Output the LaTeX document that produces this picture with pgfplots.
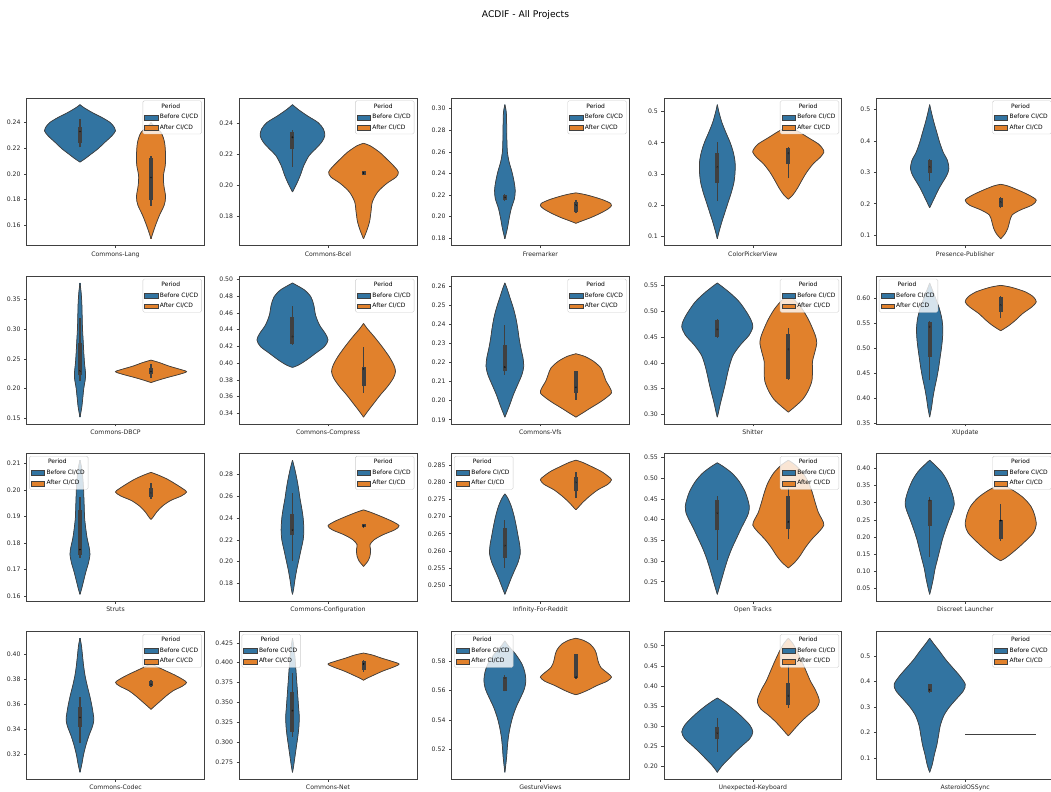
\documentclass[border=0pt]{standalone}
\usepackage{fontspec}
\setmainfont{DejaVu Sans}
\usepackage{pgfplots}
\usepackage{pgfplotstable}
\pgfplotsset{compat=1.18}

\definecolor{cB}{RGB}{50,116,161}
\definecolor{cO}{RGB}{225,129,44}
\definecolor{edge}{RGB}{64,64,64}

% violin profiles: v = value, h = half width relative to the widest violin
\pgfplotstableread{
v h
0.2539 0
0.2516 0.11
0.2477 0.35
0.2439 0.62
0.2400 0.85
0.2361 0.97
0.2336 1.0
0.2297 0.90
0.2246 0.70
0.2194 0.50
0.2156 0.32
0.2122 0.16
0.2092 0
}\LangB
\pgfplotstableread{
v h
0.2400 0
0.2374 0.08
0.2323 0.28
0.2246 0.38
0.2143 0.41
0.2066 0.40
0.1989 0.35
0.1912 0.36
0.1822 0.41
0.1757 0.37
0.1680 0.24
0.1603 0.13
0.1539 0.05
0.1495 0
}\LangA
\pgfplotstableread{
v h
0.2521 0
0.2492 0.15
0.2449 0.42
0.2406 0.72
0.2364 0.87
0.2321 0.91
0.2279 0.82
0.2236 0.65
0.2194 0.47
0.2130 0.32
0.2066 0.22
0.2013 0.12
0.1959 0
}\BcelB
\pgfplotstableread{
v h
0.2272 0
0.2257 0.18
0.2215 0.45
0.2172 0.65
0.2119 0.88
0.2087 0.98
0.2055 0.92
0.2013 0.65
0.1959 0.40
0.1896 0.25
0.1832 0.21
0.1768 0.17
0.1715 0.10
0.1657 0
}\BcelA
\pgfplotstableread{
v h
0.3037 0
0.2963 0.04
0.2841 0.05
0.2718 0.055
0.2596 0.07
0.2504 0.12
0.2412 0.20
0.2320 0.26
0.2243 0.29
0.2167 0.27
0.2075 0.18
0.1983 0.12
0.1891 0.07
0.1793 0
}\FreeB
\pgfplotstableread{
v h
0.2219 0
0.2204 0.25
0.2182 0.50
0.2152 0.78
0.2121 0.98
0.2100 1.0
0.2069 0.90
0.2029 0.68
0.1990 0.42
0.1959 0.17
0.1937 0
}\FreeA
\pgfplotstableread{
v h
0.5223 0
0.4968 0.05
0.4650 0.13
0.4332 0.24
0.4013 0.36
0.3695 0.45
0.3377 0.50
0.3058 0.50
0.2740 0.47
0.2422 0.40
0.2104 0.31
0.1785 0.22
0.1467 0.13
0.1149 0.05
0.0915 0
}\ColorB
\pgfplotstableread{
v h
0.4523 0
0.4385 0.25
0.4172 0.55
0.3960 0.85
0.3801 0.97
0.3695 1.0
0.3536 0.90
0.3324 0.70
0.3058 0.52
0.2793 0.38
0.2528 0.25
0.2315 0.12
0.2188 0
}\ColorA
\pgfplotstableread{
v h
0.5158 0
0.4905 0.05
0.4589 0.12
0.4274 0.20
0.3958 0.28
0.3642 0.38
0.3379 0.50
0.3116 0.54
0.2905 0.48
0.2695 0.37
0.2484 0.26
0.2274 0.17
0.2063 0.08
0.1874 0
}\PresB
\pgfplotstableread{
v h
0.2621 0
0.2568 0.20
0.2432 0.50
0.2274 0.80
0.2116 1.0
0.1958 0.88
0.1800 0.55
0.1642 0.32
0.1432 0.25
0.1221 0.20
0.1042 0.12
0.0884 0
}\PresA
\pgfplotstableread{
v h
0.3778 0
0.3628 0.03
0.3461 0.05
0.3239 0.06
0.3017 0.07
0.2794 0.09
0.2572 0.11
0.2406 0.13
0.2267 0.155
0.2156 0.15
0.2017 0.11
0.1850 0.08
0.1683 0.05
0.1517 0
}\DbcpB
\pgfplotstableread{
v h
0.2478 0
0.2433 0.25
0.2378 0.50
0.2322 0.82
0.2283 1.0
0.2239 0.80
0.2183 0.45
0.2139 0.20
0.2100 0
}\DbcpA
\pgfplotstableread{
v h
0.4957 0
0.4929 0.12
0.4870 0.35
0.4790 0.52
0.4692 0.60
0.4573 0.65
0.4455 0.76
0.4356 0.92
0.4277 1.0
0.4198 0.90
0.4118 0.65
0.4039 0.40
0.3980 0.18
0.3949 0
}\CompB
\pgfplotstableread{
v h
0.4474 0
0.4415 0.10
0.4316 0.30
0.4198 0.52
0.4079 0.72
0.3980 0.85
0.3901 0.90
0.3822 0.84
0.3723 0.68
0.3624 0.48
0.3526 0.30
0.3427 0.12
0.3356 0
}\CompA
\pgfplotstableread{
v h
0.2617 0
0.2588 0.06
0.2536 0.15
0.2484 0.24
0.2432 0.31
0.2380 0.36
0.2327 0.40
0.2275 0.45
0.2223 0.51
0.2180 0.53
0.2137 0.48
0.2084 0.36
0.2032 0.24
0.1980 0.14
0.1937 0.05
0.1914 0
}\VfsB
\pgfplotstableread{
v h
0.2246 0
0.2232 0.25
0.2206 0.50
0.2172 0.70
0.2137 0.78
0.2102 0.85
0.2067 0.96
0.2041 1.0
0.2015 0.85
0.1989 0.65
0.1963 0.42
0.1937 0.20
0.1914 0
}\VfsA
\pgfplotstableread{
v h
0.5545 0
0.5468 0.15
0.5340 0.38
0.5180 0.62
0.4987 0.82
0.4827 0.95
0.4699 1.0
0.4538 0.90
0.4346 0.65
0.4154 0.45
0.3962 0.35
0.3769 0.28
0.3577 0.22
0.3385 0.15
0.3192 0.08
0.3032 0.03
0.2949 0
}\ShitB
\pgfplotstableread{
v h
0.5308 0
0.5212 0.18
0.5051 0.38
0.4859 0.55
0.4667 0.68
0.4506 0.77
0.4378 0.80
0.4218 0.75
0.4026 0.68
0.3833 0.68
0.3641 0.66
0.3449 0.55
0.3289 0.40
0.3160 0.20
0.3045 0
}\ShitA
\pgfplotstableread{
v h
0.6305 0
0.6192 0.06
0.5993 0.17
0.5795 0.27
0.5596 0.34
0.5397 0.37
0.5199 0.36
0.5000 0.33
0.4801 0.29
0.4603 0.25
0.4404 0.20
0.4205 0.14
0.4007 0.09
0.3808 0.05
0.3622 0
}\XupB
\pgfplotstableread{
v h
0.6258 0
0.6219 0.30
0.6126 0.70
0.6026 0.92
0.5927 1.0
0.5828 0.88
0.5695 0.62
0.5563 0.42
0.5464 0.25
0.5384 0.08
0.5351 0
}\XupA
\pgfplotstableread{
v h
0.2112 0
0.2081 0.05
0.2044 0.08
0.2006 0.10
0.1969 0.11
0.1932 0.12
0.1894 0.13
0.1857 0.16
0.1819 0.20
0.1782 0.26
0.1757 0.28
0.1726 0.24
0.1694 0.17
0.1657 0.10
0.1625 0.04
0.1607 0
}\StrutsB
\pgfplotstableread{
v h
0.2066 0
0.2056 0.20
0.2041 0.45
0.2023 0.68
0.2004 0.90
0.1992 1.0
0.1977 0.85
0.1960 0.55
0.1939 0.32
0.1917 0.16
0.1898 0.06
0.1889 0
}\StrutsA
\pgfplotstableread{
v h
0.2931 0
0.2855 0.06
0.2764 0.12
0.2672 0.17
0.2581 0.21
0.2490 0.26
0.2399 0.30
0.2292 0.32
0.2201 0.30
0.2109 0.24
0.2018 0.18
0.1927 0.12
0.1836 0.07
0.1745 0.03
0.1700 0
}\ConfB
\pgfplotstableread{
v h
0.2475 0
0.2453 0.20
0.2414 0.50
0.2368 0.82
0.2329 1.0
0.2292 0.88
0.2247 0.55
0.2201 0.30
0.2155 0.18
0.2109 0.20
0.2049 0.18
0.2003 0.12
0.1967 0.03
0.1955 0
}\ConfA
\pgfplotstableread{
v h
0.2766 0
0.2754 0.08
0.2730 0.18
0.2701 0.26
0.2672 0.32
0.2644 0.37
0.2615 0.42
0.2591 0.43
0.2567 0.37
0.2543 0.27
0.2519 0.17
0.2495 0.08
0.2474 0
}\InfB
\pgfplotstableread{
v h
0.2864 0
0.2858 0.18
0.2845 0.45
0.2831 0.72
0.2816 0.92
0.2807 1.0
0.2794 0.90
0.2778 0.62
0.2759 0.38
0.2740 0.18
0.2725 0.05
0.2720 0
}\InfA
\pgfplotstableread{
v h
0.5373 0
0.5277 0.18
0.5118 0.42
0.4919 0.62
0.4680 0.78
0.4481 0.86
0.4322 0.90
0.4163 0.88
0.4004 0.80
0.3805 0.68
0.3566 0.55
0.3327 0.42
0.3088 0.31
0.2849 0.22
0.2611 0.14
0.2372 0.06
0.2197 0
}\OpenB
\pgfplotstableread{
v h
0.5436 0
0.5317 0.20
0.5118 0.42
0.4879 0.58
0.4640 0.68
0.4402 0.76
0.4163 0.85
0.4004 0.95
0.3868 1.0
0.3725 0.88
0.3526 0.66
0.3327 0.48
0.3128 0.33
0.2969 0.18
0.2833 0
}\OpenA
\pgfplotstableread{
v h
0.4240 0
0.4096 0.15
0.3904 0.33
0.3664 0.48
0.3376 0.60
0.3136 0.67
0.2944 0.69
0.2752 0.64
0.2512 0.55
0.2224 0.45
0.1937 0.36
0.1649 0.29
0.1361 0.22
0.1073 0.15
0.0785 0.10
0.0497 0.04
0.0334 0
}\DiscB
\pgfplotstableread{
v h
0.3539 0
0.3472 0.15
0.3328 0.40
0.3136 0.65
0.2896 0.85
0.2656 0.95
0.2368 1.0
0.2128 0.92
0.1889 0.70
0.1697 0.50
0.1505 0.28
0.1380 0.12
0.1313 0
}\DiscA
\pgfplotstableread{
v h
0.4130 0
0.4072 0.04
0.3992 0.07
0.3912 0.10
0.3833 0.14
0.3753 0.20
0.3673 0.27
0.3594 0.33
0.3527 0.37
0.3474 0.39
0.3421 0.35
0.3355 0.26
0.3275 0.17
0.3195 0.10
0.3116 0.05
0.3054 0
}\CodecB
\pgfplotstableread{
v h
0.3926 0
0.3904 0.15
0.3873 0.38
0.3833 0.68
0.3798 0.90
0.3774 1.0
0.3745 0.88
0.3708 0.62
0.3665 0.42
0.3620 0.24
0.3580 0.08
0.3559 0
}\CodecA
\pgfplotstableread{
v h
0.4308 0
0.4196 0.04
0.4071 0.07
0.3946 0.09
0.3821 0.11
0.3696 0.13
0.3571 0.15
0.3446 0.17
0.3321 0.19
0.3196 0.18
0.3071 0.15
0.2946 0.11
0.2821 0.07
0.2696 0.03
0.2621 0
}\NetB
\pgfplotstableread{
v h
0.4121 0
0.4096 0.25
0.4058 0.50
0.4017 0.80
0.3983 1.0
0.3946 0.85
0.3896 0.55
0.3842 0.28
0.3800 0.08
0.3779 0
}\NetA
\pgfplotstableread{
v h
0.5937 0
0.5903 0.10
0.5847 0.30
0.5780 0.48
0.5724 0.56
0.5667 0.59
0.5611 0.55
0.5555 0.45
0.5488 0.32
0.5420 0.22
0.5353 0.15
0.5285 0.10
0.5218 0.07
0.5151 0.05
0.5083 0.02
0.5043 0
}\GestB
\pgfplotstableread{
v h
0.5955 0
0.5942 0.20
0.5915 0.40
0.5881 0.52
0.5847 0.58
0.5802 0.62
0.5757 0.70
0.5712 0.92
0.5690 1.0
0.5663 0.88
0.5634 0.60
0.5600 0.32
0.5578 0.10
0.5571 0
}\GestA
\pgfplotstableread{
v h
0.3703 0
0.3638 0.12
0.3515 0.32
0.3352 0.55
0.3189 0.75
0.3026 0.92
0.2863 1.0
0.2700 0.92
0.2537 0.72
0.2373 0.52
0.2210 0.34
0.2047 0.16
0.1925 0.05
0.1860 0
}\KeybB
\pgfplotstableread{
v h
0.5188 0
0.5065 0.12
0.4861 0.25
0.4617 0.38
0.4372 0.50
0.4127 0.62
0.3923 0.75
0.3719 0.85
0.3597 0.87
0.3434 0.78
0.3271 0.55
0.3107 0.35
0.2944 0.18
0.2822 0.06
0.2765 0
}\KeybA
\pgfplotstableread{
v h
0.5697 0
0.5503 0.10
0.5181 0.28
0.4858 0.45
0.4535 0.65
0.4213 0.85
0.3891 1.0
0.3633 0.95
0.3310 0.75
0.2987 0.55
0.2665 0.40
0.2278 0.30
0.1891 0.25
0.1504 0.20
0.1117 0.13
0.0730 0.07
0.0433 0
}\AstB

% one violin: centre, colour, profile table
\newcommand{\violin}[3]{%
  \addplot[forget plot, smooth, fill=#2, draw=#2, line width=0.3bp]
    table[x expr={#1+0.2*\thisrow{h}}, y=v] {#3};
  \addplot[forget plot, smooth, fill=#2, draw=#2, line width=0.3bp]
    table[x expr={#1-0.2*\thisrow{h}}, y=v] {#3};
  % close the seam where the two halves meet
  \addplot[forget plot, draw=#2, line width=1.2bp]
    table[x expr={#1}, y=v] {#3};
  \addplot[forget plot, smooth, draw=edge, line width=0.75bp]
    table[x expr={#1+0.2*\thisrow{h}}, y=v] {#3};
  \addplot[forget plot, smooth, draw=edge, line width=0.75bp]
    table[x expr={#1-0.2*\thisrow{h}}, y=v] {#3};
}
% inner box: centre, whisker low, q1, median, q3, whisker high
\newcommand{\vstats}[6]{%
  \addplot[forget plot, draw=edge, line width=1.2bp] coordinates {(#1,#2) (#1,#6)};
  \addplot[forget plot, draw=edge, line width=4bp] coordinates {(#1,#3) (#1,#5)};
  \addplot[forget plot, only marks, mark=*, mark size=0.75bp,
    mark options={fill=white, draw=none}] coordinates {(#1,#4)};
}
\newcommand{\periodlegend}{%
  \addlegendimage{empty legend}\addlegendentry{\hspace*{1.5bp}Period}
  \addlegendimage{fill=cB}\addlegendentry{Before CI/CD}
  \addlegendimage{fill=cO}\addlegendentry{After CI/CD}
}

\pgfplotsset{
  vax/.style={
    anchor=north west,
    width=177.6bp, height=147.5bp, scale only axis,
    xmin=-0.5, xmax=0.5, xtick={0},
    tick align=outside, tick pos=left,
    major tick length=2.6bp,
    every tick/.style={black!75, line width=0.6bp},
    axis line style={black!75, line width=0.6bp},
    tick label style={font=\fontsize{6.2}{7}\selectfont, text=black!85},
    legend cell align=left,
    legend image code/.code={\filldraw[##1, fill opacity=1, draw opacity=1, sharp corners,
      draw=edge, line width=0.35bp] (0bp,-2.4bp) rectangle (13.3bp,2.4bp);},
    legend style={font=\fontsize{6}{7}\selectfont, draw=black!20, fill=white,
      fill opacity=0.8, text opacity=1, rounded corners=1.5bp,
      inner xsep=1.5bp, inner ysep=1bp, row sep=0.6bp},
  },
  legNE/.style={legend style={at={(0.986,0.983)}, anchor=north east}},
  legNW/.style={legend style={at={(0.014,0.983)}, anchor=north west}},
}

\begin{document}
\begin{tikzpicture}
\path[use as bounding box] (0,0) rectangle (1051bp,-792bp);
\node[font=\fontsize{9.2}{11}\selectfont] at (525.5bp,-15bp) {ACDIF - All Projects};

% ---------------- row 1 ----------------
\begin{axis}[vax, legNE, at={(26.7bp,-98bp)}, ymin=0.1443, ymax=0.2591,
  ytick={0.16,0.18,0.20,0.22,0.24}, yticklabels={0.16,0.18,0.20,0.22,0.24},
  xticklabels={Commons-Lang}]
\violin{-0.2}{cB}{\LangB}
\vstats{-0.2}{0.2207}{0.2241}{0.2331}{0.2367}{0.2426}
\violin{0.2}{cO}{\LangA}
\vstats{0.2}{0.1752}{0.1796}{0.1973}{0.2125}{0.2143}
\periodlegend
\end{axis}

\begin{axis}[vax, legNE, at={(239.2bp,-98bp)}, ymin=0.1614, ymax=0.2564,
  ytick={0.18,0.20,0.22,0.24}, yticklabels={0.18,0.20,0.22,0.24},
  xticklabels={Commons-Bcel}]
\violin{-0.2}{cB}{\BcelB}
\vstats{-0.2}{0.2119}{0.2236}{0.2311}{0.2343}{0.2360}
\violin{0.2}{cO}{\BcelA}
\vstats{0.2}{0.2068}{0.2070}{0.2081}{0.2091}{0.2093}
\periodlegend
\end{axis}

\begin{axis}[vax, legNE, at={(451.6bp,-98bp)}, ymin=0.1731, ymax=0.3099,
  ytick={0.18,0.20,0.22,0.24,0.26,0.28,0.30}, yticklabels={0.18,0.20,0.22,0.24,0.26,0.28,0.30},
  xticklabels={Freemarker}]
\violin{-0.2}{cB}{\FreeB}
\vstats{-0.2}{0.2142}{0.2152}{0.2176}{0.2198}{0.2213}
\violin{0.2}{cO}{\FreeA}
\vstats{0.2}{0.2029}{0.2038}{0.2106}{0.2136}{0.2152}
\periodlegend
\end{axis}

\begin{axis}[vax, legNE, at={(664.0bp,-98bp)}, ymin=0.0700, ymax=0.5438,
  ytick={0.1,0.2,0.3,0.4,0.5}, yticklabels={0.1,0.2,0.3,0.4,0.5},
  xticklabels={ColorPickerView}]
\violin{-0.2}{cB}{\ColorB}
\vstats{-0.2}{0.2125}{0.2708}{0.3218}{0.3674}{0.4013}
\violin{0.2}{cO}{\ColorA}
\vstats{0.2}{0.2867}{0.3313}{0.3663}{0.3844}{0.3854}
\periodlegend
\end{axis}

\begin{axis}[vax, legNE, at={(876.4bp,-98bp)}, ymin=0.0670, ymax=0.5372,
  ytick={0.1,0.2,0.3,0.4,0.5}, yticklabels={0.1,0.2,0.3,0.4,0.5},
  xticklabels={Presence-Publisher}]
\violin{-0.2}{cB}{\PresB}
\vstats{-0.2}{0.2716}{0.2979}{0.3168}{0.3411}{0.3440}
\violin{0.2}{cO}{\PresA}
\vstats{0.2}{0.1853}{0.1884}{0.2055}{0.2189}{0.2211}
\periodlegend
\end{axis}

% ---------------- row 2 ----------------
\begin{axis}[vax, legNE, at={(26.7bp,-276.3bp)}, ymin=0.1404, ymax=0.3891,
  ytick={0.15,0.20,0.25,0.30,0.35}, yticklabels={0.15,0.20,0.25,0.30,0.35},
  xticklabels={Commons-DBCP}]
\violin{-0.2}{cB}{\DbcpB}
\vstats{-0.2}{0.2128}{0.2222}{0.2294}{0.2767}{0.3183}
\violin{0.2}{cO}{\DbcpA}
\vstats{0.2}{0.2183}{0.2239}{0.2283}{0.2350}{0.2406}
\periodlegend
\end{axis}

\begin{axis}[vax, legNE, at={(239.2bp,-276.3bp)}, ymin=0.3276, ymax=0.5037,
  ytick={0.34,0.36,0.38,0.40,0.42,0.44,0.46,0.48,0.50},
  yticklabels={0.34,0.36,0.38,0.40,0.42,0.44,0.46,0.48,0.50},
  xticklabels={Commons-Compress}]
\violin{-0.2}{cB}{\CompB}
\vstats{-0.2}{0.4217}{0.4229}{0.4316}{0.4553}{0.4684}
\violin{0.2}{cO}{\CompA}
\vstats{0.2}{0.3644}{0.3723}{0.3929}{0.3949}{0.4198}
\periodlegend
\end{axis}

\begin{axis}[vax, legNE, at={(451.6bp,-276.3bp)}, ymin=0.1879, ymax=0.2652,
  ytick={0.19,0.20,0.21,0.22,0.23,0.24,0.25,0.26},
  yticklabels={0.19,0.20,0.21,0.22,0.23,0.24,0.25,0.26},
  xticklabels={Commons-Vfs}]
\violin{-0.2}{cB}{\VfsB}
\vstats{-0.2}{0.2137}{0.2154}{0.2176}{0.2293}{0.2397}
\violin{0.2}{cO}{\VfsA}
\vstats{0.2}{0.2006}{0.2041}{0.2071}{0.2154}{0.2157}
\periodlegend
\end{axis}

\begin{axis}[vax, legNE, at={(664.0bp,-276.3bp)}, ymin=0.2819, ymax=0.5675,
  ytick={0.30,0.35,0.40,0.45,0.50,0.55}, yticklabels={0.30,0.35,0.40,0.45,0.50,0.55},
  xticklabels={Shitter}]
\violin{-0.2}{cB}{\ShitB}
\vstats{-0.2}{0.4487}{0.4506}{0.4647}{0.4827}{0.4840}
\violin{0.2}{cO}{\ShitA}
\vstats{0.2}{0.3673}{0.3690}{0.4263}{0.4551}{0.4679}
\periodlegend
\end{axis}

\begin{axis}[vax, legNW, at={(876.4bp,-276.3bp)}, ymin=0.3488, ymax=0.6439,
  ytick={0.35,0.40,0.45,0.50,0.55,0.60}, yticklabels={0.35,0.40,0.45,0.50,0.55,0.60},
  xticklabels={XUpdate}]
\violin{-0.2}{cB}{\XupB}
\vstats{-0.2}{0.4358}{0.4834}{0.5430}{0.5517}{0.5550}
\violin{0.2}{cO}{\XupA}
\vstats{0.2}{0.5596}{0.5728}{0.5861}{0.6026}{0.6040}
\periodlegend
\end{axis}

% ---------------- row 3 ----------------
\begin{axis}[vax, legNW, at={(26.7bp,-453.5bp)}, ymin=0.1582, ymax=0.2137,
  ytick={0.16,0.17,0.18,0.19,0.20,0.21}, yticklabels={0.16,0.17,0.18,0.19,0.20,0.21},
  xticklabels={Struts}]
\violin{-0.2}{cB}{\StrutsB}
\vstats{-0.2}{0.1745}{0.1757}{0.1776}{0.1925}{0.1975}
\violin{0.2}{cO}{\StrutsA}
\vstats{0.2}{0.1967}{0.1975}{0.1989}{0.2006}{0.2026}
\periodlegend
\end{axis}

\begin{axis}[vax, legNE, at={(239.2bp,-453.5bp)}, ymin=0.1638, ymax=0.2993,
  ytick={0.18,0.20,0.22,0.24,0.26,0.28}, yticklabels={0.18,0.20,0.22,0.24,0.26,0.28},
  xticklabels={Commons-Configuration}]
\violin{-0.2}{cB}{\ConfB}
\vstats{-0.2}{0.2004}{0.2241}{0.2292}{0.2435}{0.2627}
\violin{0.2}{cO}{\ConfA}
\vstats{0.2}{0.2310}{0.2315}{0.2329}{0.2345}{0.2350}
\periodlegend
\end{axis}

\begin{axis}[vax, legNW, at={(451.6bp,-453.5bp)}, ymin=0.24545, ymax=0.28835,
  ytick={0.250,0.255,0.260,0.265,0.270,0.275,0.280,0.285},
  yticklabels={0.250,0.255,0.260,0.265,0.270,0.275,0.280,0.285},
  xticklabels={Infinity-For-Reddit}]
\violin{-0.2}{cB}{\InfB}
\vstats{-0.2}{0.2551}{0.2581}{0.2615}{0.2668}{0.2689}
\violin{0.2}{cO}{\InfA}
\vstats{0.2}{0.2754}{0.2773}{0.2800}{0.2816}{0.2829}
\periodlegend
\end{axis}

\begin{axis}[vax, legNE, at={(664.0bp,-453.5bp)}, ymin=0.2035, ymax=0.5598,
  ytick={0.25,0.30,0.35,0.40,0.45,0.50,0.55}, yticklabels={0.25,0.30,0.35,0.40,0.45,0.50,0.55},
  xticklabels={Open Tracks}]
\violin{-0.2}{cB}{\OpenB}
\vstats{-0.2}{0.3024}{0.3741}{0.4163}{0.4481}{0.4561}
\violin{0.2}{cO}{\OpenA}
\vstats{0.2}{0.3526}{0.3765}{0.3948}{0.4561}{0.4760}
\periodlegend
\end{axis}

\begin{axis}[vax, legNE, at={(876.4bp,-453.5bp)}, ymin=0.0139, ymax=0.4435,
  ytick={0.05,0.10,0.15,0.20,0.25,0.30,0.35,0.40},
  yticklabels={0.05,0.10,0.15,0.20,0.25,0.30,0.35,0.40},
  xticklabels={Discreet Launcher}]
\violin{-0.2}{cB}{\DiscB}
\vstats{-0.2}{0.1409}{0.2320}{0.3069}{0.3088}{0.3155}
\violin{0.2}{cO}{\DiscA}
\vstats{0.2}{0.1889}{0.1937}{0.2484}{0.2512}{0.2964}
\periodlegend
\end{axis}

% ---------------- row 4 ----------------
\begin{axis}[vax, legNE, at={(26.7bp,-631.5bp)}, ymin=0.3000, ymax=0.4184,
  ytick={0.32,0.34,0.36,0.38,0.40}, yticklabels={0.32,0.34,0.36,0.38,0.40},
  xticklabels={Commons-Codec}]
\violin{-0.2}{cB}{\CodecB}
\vstats{-0.2}{0.3293}{0.3416}{0.3495}{0.3580}{0.3660}
\violin{0.2}{cO}{\CodecA}
\vstats{0.2}{0.3740}{0.3745}{0.3761}{0.3788}{0.3793}
\periodlegend
\end{axis}

\begin{axis}[vax, legNW, at={(239.2bp,-631.5bp)}, ymin=0.2537, ymax=0.4392,
  ytick={0.275,0.300,0.325,0.350,0.375,0.400,0.425},
  yticklabels={0.275,0.300,0.325,0.350,0.375,0.400,0.425},
  xticklabels={Commons-Net}]
\violin{-0.2}{cB}{\NetB}
\vstats{-0.2}{0.3071}{0.3133}{0.3396}{0.3633}{0.3871}
\violin{0.2}{cO}{\NetA}
\vstats{0.2}{0.3883}{0.3913}{0.3983}{0.4021}{0.4037}
\periodlegend
\end{axis}

\begin{axis}[vax, legNW, at={(451.6bp,-631.5bp)}, ymin=0.4997, ymax=0.6001,
  ytick={0.52,0.54,0.56,0.58}, yticklabels={0.52,0.54,0.56,0.58},
  xticklabels={GestureViews}]
\violin{-0.2}{cB}{\GestB}
\vstats{-0.2}{0.5593}{0.5595}{0.5685}{0.5694}{0.5702}
\violin{0.2}{cO}{\GestA}
\vstats{0.2}{0.5680}{0.5685}{0.5690}{0.5847}{0.5847}
\periodlegend
\end{axis}

\begin{axis}[vax, legNE, at={(664.0bp,-631.5bp)}, ymin=0.1694, ymax=0.5354,
  ytick={0.20,0.25,0.30,0.35,0.40,0.45,0.50}, yticklabels={0.20,0.25,0.30,0.35,0.40,0.45,0.50},
  xticklabels={Unexpected-Keyboard}]
\violin{-0.2}{cB}{\KeybB}
\vstats{-0.2}{0.2373}{0.2675}{0.2838}{0.2985}{0.3214}
\violin{0.2}{cO}{\KeybA}
\vstats{0.2}{0.3458}{0.3540}{0.3760}{0.4086}{0.4535}
\periodlegend
\end{axis}

\begin{axis}[vax, legNE, at={(876.4bp,-631.5bp)}, ymin=0.0170, ymax=0.5960,
  ytick={0.1,0.2,0.3,0.4,0.5}, yticklabels={0.1,0.2,0.3,0.4,0.5},
  xticklabels={AsteroidOSSync}]
\violin{-0.2}{cB}{\AstB}
\vstats{-0.2}{0.3530}{0.3568}{0.3671}{0.3891}{0.3891}
% a single repeated value: drawn as a flat line
\addplot[forget plot, draw=edge, line width=0.9bp] coordinates {(0.0,0.1917) (0.4,0.1917)};
\periodlegend
\end{axis}
\end{tikzpicture}
\end{document}
